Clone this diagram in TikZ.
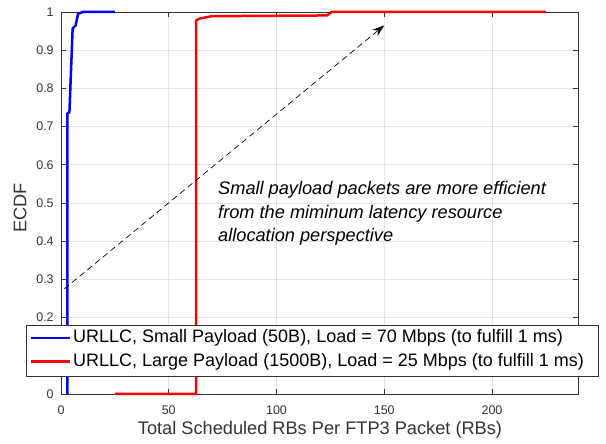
\documentclass[tikz,border=0pt]{standalone}
\usepackage{fontspec}
\setmainfont{Liberation Sans}
\usetikzlibrary{arrows.meta}

\tikzset{
 grid line/.style={draw=black!10, line width=0.6pt},
 axis frame/.style={draw=black!80, line width=0.8pt},
 tick label/.style={font=\fontsize{12.5}{12.5}\selectfont, text=black!80, inner sep=0pt},
 axis label/.style={font=\fontsize{18.2}{18.2}\selectfont, text=black!80, inner sep=0pt},
 small curve/.style={draw=blue, line width=2.5pt, line join=round},
 large curve/.style={draw=red, line width=2.5pt, line join=round},
 legend box/.style={draw=black!80, line width=0.8pt, fill=white, inner sep=0pt},
 legend text/.style={font=\fontsize{18}{18}\selectfont, inner sep=0pt},
 note text/.style={font=\fontsize{18.2}{23.5}\selectfont\itshape, align=left, inner sep=0pt},
}

\begin{document}
\begin{tikzpicture}[x=1pt,y=1pt]
\useasboundingbox (0,0) rectangle (606,444);
\begin{scope}[x=2.155pt,y=382pt,shift={(61pt,50pt)}]
% grid
\foreach \x in {50,100,150,200}{
\draw[grid line] (\x,0) -- (\x,1);};
\foreach \y in {1,...,9}{
\draw[grid line] (0,\y/10) -- (240,\y/10);};
% ticks and labels
\foreach \x in {0,50,100,150,200}{
\draw[axis frame] (\x,0) -- ++(0,0.013);
\draw[axis frame] (\x,1) -- ++(0,-0.013);
\node[tick label] (xt\x) at (\x,-0.042) {\x};};
\foreach \y/\t in {0/0,1/0.1,2/0.2,3/0.3,4/0.4,5/0.5,6/0.6,7/0.7,8/0.8,9/0.9,10/1}{
\draw[axis frame] (0,\y/10) -- ++(2.3,0);
\draw[axis frame] (240,\y/10) -- ++(-2.3,0);
\node[tick label, anchor=east] (yt\y) at (-3.3,\y/10) {\t};};
\draw[axis frame] (0,0) rectangle (240,1);
% curves
\draw[small curve] (3,0) -- (3,0.735) -- (3.9,0.737) -- (5.4,0.957) -- (6.8,0.965)
 -- (7.9,0.995) -- (10,1) -- (25,1);
\draw[large curve] (25,0) -- (62.7,0) -- (62.7,0.978) -- (64.5,0.983) -- (70,0.989)
 -- (123.5,0.991) -- (125.5,1) -- (225,1);
% arrow
\coordinate (from) at (1.5,0.275);
\coordinate (to) at (150,0.965);
\draw[dashed, dash pattern=on 6pt off 4pt, line width=0.7pt,
 -{Stealth[length=12pt,width=8pt]}] (from) -- (to);
\end{scope}
% annotation
\node[note text, anchor=north west] (note) at (218,262.6)
 {Small payload packets are more efficient\\
  from the miminum latency resource\\
  allocation perspective};
% axis labels
\node[axis label] (xlabel) at (320,14) {Total Scheduled RBs Per FTP3 Packet (RBs)};
\node[axis label, rotate=90] (ylabel) at (20,236) {ECDF};
% legend
\node[legend box, minimum width=572pt, minimum height=51pt, anchor=north west]
 (legend) at (26,119) {};
\node[legend text, anchor=west] (small) at (73,106)
 {URLLC, Small Payload (50B), Load = 70 Mbps (to fulfill 1 ms)};
\node[legend text, anchor=west] (large) at (73,82.5)
 {URLLC, Large Payload (1500B), Load = 25 Mbps (to fulfill 1 ms)};
\draw[small curve] ([xshift=-42pt]small.west) -- ([xshift=-3pt]small.west);
\draw[large curve] ([xshift=-42pt]large.west) -- ([xshift=-3pt]large.west);
\end{tikzpicture}
\end{document}
